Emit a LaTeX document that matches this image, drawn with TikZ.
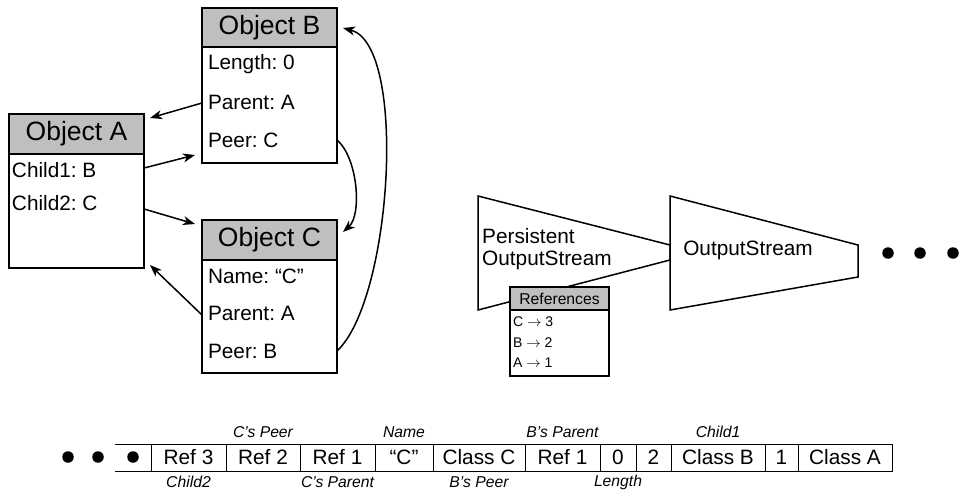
\documentclass[tikz,border=0pt]{standalone}
\usepackage{fontspec}
\setmainfont{Liberation Sans}
\usetikzlibrary{arrows.meta}
\frenchspacing

\begin{document}
\begin{tikzpicture}[x=1pt,y=-1pt,
  head/.style={draw, line width=2pt, fill=black!25, anchor=north west, inner sep=0, outer sep=0,
    font=\fontsize{26.5}{30}\selectfont},
  body/.style={draw, line width=2pt, fill=white, anchor=north west, inner sep=0, outer sep=0},
  field/.style={anchor=west, inner xsep=6pt, inner ysep=0, outer sep=0, font=\fontsize{20.8}{24}\selectfont},
  link/.style={line width=1.5pt, -{Stealth[length=12pt,width=9pt,inset=3.5pt]}},
  pipe/.style={draw, line width=1.5pt, fill=white, line join=miter},
  reftext/.style={anchor=west, inner sep=0, font=\fontsize{14}{16}\selectfont},
  cell/.style={draw, line width=1pt, minimum height=27pt, inner sep=0, outer sep=0, anchor=west,
    font=\fontsize{20.8}{24}\selectfont},
  note/.style={inner sep=0, font=\fontsize{15.7}{18}\selectfont\itshape},
  dot/.style={fill=black, circle, inner sep=0, minimum size=11.5pt},
]
\useasboundingbox (0,0) rectangle (965,497);

% ---------------- object graph ----------------
% Object A
\node[body, minimum width=135pt, minimum height=114pt] (aBody) at (9,154) {};
\node[head, minimum width=135pt, minimum height=40pt] (aHead) at (9,114) {Object A};
\node[field, inner xsep=3pt] (aC1) at (9,170) {Child1: B};
\node[field, inner xsep=3pt] (aC2) at (9,203) {Child2: C};

% Object B
\node[body, minimum width=135pt, minimum height=116pt] (bBody) at (202,47) {};
\node[head, minimum width=135pt, minimum height=39pt] (bHead) at (202,8) {Object B};
\node[field] (bLen) at (202,64) {Length: 0};
\node[field] (bPar) at (202,102) {Parent: A};
\node[field] (bPeer) at (202,140) {Peer: C};

% Object C
\node[body, minimum width=135pt, minimum height=113pt] (cBody) at (202,260) {};
\node[head, minimum width=135pt, minimum height=40pt] (cHead) at (202,220) {Object C};
\node[field] (cName) at (202,276) {Name: ``C''};
\node[field] (cPar) at (202,313) {Parent: A};
\node[field] (cPeer) at (202,351) {Peer: B};

% references between the objects
\draw[link] ([yshift=-1pt]bPar.west) -- ([xshift=6pt,yshift=-4pt]aHead.north east);
\draw[link] ([yshift=2pt]aBody.east |- aC1) -- ([xshift=-7pt]bBody.west |- 0,155);
\draw[link] ([yshift=-6pt]aBody.east |- aC2) -- ([xshift=-7pt,yshift=-4pt]cHead.north west);
\draw[link] ([yshift=-2pt]cPar.west) -- ([xshift=6pt,yshift=3pt]aBody.south east);
\draw[link] (bBody.east |- bPeer) .. controls (358,158) and (362,215) .. ([xshift=6pt,yshift=-12pt]cHead.north east);
\draw[link] (cBody.east |- cPeer) .. controls (392,300) and (408,45) .. ([xshift=6pt,yshift=-20pt]bHead.north east);

% ---------------- stream pipeline ----------------
\coordinate (posTL) at (478,196);
\coordinate (posBL) at (478,310);
\coordinate (osTL) at (670,196);
\coordinate (osBL) at (670,310);
\coordinate (osTR) at (858,245);
\coordinate (osBR) at (858,277);

\draw[pipe] (posTL) -- (670,245) -- (670,260) -- (posBL) -- cycle;
\draw[pipe] (osTL) -- (osTR) -- (osBR) -- (osBL) -- cycle;

\node[anchor=west, inner sep=0, align=left, font=\fontsize{20.8}{22.5}\selectfont] (posLabel) at (482,249)
  {Persistent\\OutputStream};
\node[inner sep=0, font=\fontsize{20.8}{24}\selectfont] (osLabel) at (748,250) {OutputStream};

% reference table of the persistent stream
\node[body, minimum width=99pt, minimum height=66pt] (refBody) at (510,310) {};
\node[head, minimum width=99pt, minimum height=23pt, font=\fontsize{15.7}{18}\selectfont] (refHead) at (510,287) {References};
\node[reftext] (refC) at (513,322) {C $\rightarrow$ 3};
\node[reftext] (refB) at (513,343) {B $\rightarrow$ 2};
\node[reftext] (refA) at (513,363) {A $\rightarrow$ 1};

\node[dot] (d1) at (888,253) {};
\node[dot] (d2) at (920,253) {};
\node[dot] (d3) at (953,253) {};

% ---------------- serialized byte stream ----------------
\node[cell, minimum width=75pt] (s1) at (151,457.5) {Ref 3};
\node[cell, minimum width=74pt] (s2) at (s1.east) {Ref 2};
\node[cell, minimum width=75pt] (s3) at (s2.east) {Ref 1};
\node[cell, minimum width=58pt] (s4) at (s3.east) {``C''};
\node[cell, minimum width=92pt] (s5) at (s4.east) {Class C};
\node[cell, minimum width=75pt] (s6) at (s5.east) {Ref 1};
\node[cell, minimum width=36pt] (s7) at (s6.east) {0};
\node[cell, minimum width=35pt] (s8) at (s7.east) {2};
\node[cell, minimum width=94pt] (s9) at (s8.east) {Class B};
\node[cell, minimum width=33pt] (s10) at (s9.east) {1};
\node[cell, minimum width=94pt] (s11) at (s10.east) {Class A};

\coordinate (openTop) at (115,444);
\coordinate (openBot) at (115,471);
\draw[line width=1pt] (openTop) -- (s1.north west);
\draw[line width=1pt] (openBot) -- (s1.south west);

\node[dot] (e1) at (68,457) {};
\node[dot] (e2) at (98,457) {};
\node[dot] (e3) at (133,457) {};

\node[note] (nCPeer) at ([yshift=12pt]s2.north) {C’s Peer};
\node[note] (nName) at ([yshift=12pt]s4.north) {Name};
\node[note] (nBPar) at ([yshift=12pt]s6.north) {B’s Parent};
\node[note] (nChild1) at ([yshift=12pt]s9.north) {Child1};
\node[note] (nChild2) at ([yshift=-11pt]s1.south) {Child2};
\node[note] (nCPar) at ([yshift=-11pt]s3.south) {C’s Parent};
\node[note] (nBPeer) at ([yshift=-11pt]s5.south) {B’s Peer};
\node[note] (nLen) at ([yshift=-11pt]s7.south) {Length};
\end{tikzpicture}
\end{document}
